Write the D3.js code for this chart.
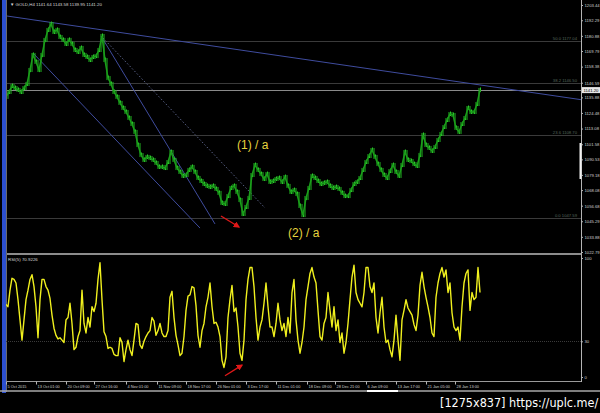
<!DOCTYPE html>
<html>
<head>
<meta charset="utf-8">
<script src="https://cdn.jsdelivr.net/npm/d3@7"></script>
<style>
    html, body { margin: 0; padding: 0; background: #000; }
    svg { display: block; }
</style>
</head>
<body>
<svg id="chart" width="600" height="413"></svg>
<script>
'use strict';

// GOLD,H4 closes, one every 3 bars (bar 1, 4, 7 ...)
const closes = [
    1136.2, 1139.8, 1144.2, 1142.7, 1141.3, 1139.8, 1142.7, 1145.7, 1155.9, 1166.9,
    1161.8, 1155.9, 1166.9, 1177.9, 1185.2, 1189.5, 1183.7, 1185.2, 1180.0, 1177.9,
    1174.9, 1177.9, 1174.9, 1170.5, 1169.1, 1172.0, 1166.9, 1165.4, 1163.2, 1165.4,
    1166.1, 1170.5, 1180.8, 1163.2, 1150.0, 1145.7, 1139.8, 1136.2, 1131.8, 1128.1,
    1125.2, 1120.8, 1116.4, 1110.6, 1101.0, 1093.7, 1090.1, 1092.3, 1091.5, 1090.1,
    1087.9, 1085.0, 1085.0, 1084.2, 1088.6, 1095.9, 1090.1, 1084.2, 1081.3, 1078.4,
    1079.1, 1082.8, 1085.0, 1081.3, 1076.9, 1074.7, 1072.5, 1071.1, 1070.3, 1071.1,
    1068.9, 1066.0, 1058.6, 1057.9, 1063.7, 1069.6, 1071.1, 1066.7, 1060.8, 1050.6,
    1055.7, 1062.3, 1079.1, 1086.4, 1082.8, 1079.8, 1076.2, 1079.8, 1074.0, 1074.7,
    1076.2, 1076.9, 1074.0, 1077.6, 1071.1, 1066.7, 1068.1, 1065.2, 1056.4, 1049.8,
    1062.3, 1069.6, 1078.4, 1076.9, 1074.7, 1072.5, 1073.3, 1074.0, 1071.1, 1069.6,
    1070.3, 1068.9, 1066.0, 1063.7, 1063.7, 1068.1, 1072.5, 1074.0, 1076.9, 1082.8,
    1088.6, 1093.0, 1097.4, 1092.3, 1087.1, 1082.8, 1079.1, 1076.9, 1082.0, 1086.4,
    1081.3, 1078.4, 1086.4, 1095.9, 1090.1, 1089.3, 1087.1, 1085.7, 1093.7, 1108.4,
    1101.0, 1098.9, 1096.7, 1099.6, 1104.7, 1109.1, 1114.2, 1119.3, 1123.7, 1123.0,
    1113.5, 1110.6, 1116.4, 1120.8, 1128.1, 1125.2, 1125.2, 1131.0, 1141.3
];
const closeStep = 3;

// RSI(5), one value every 2 bars
const rsiValues = [
    61, 59, 73, 83, 82, 79, 65, 48, 31, 48,
    65, 73, 82, 86, 76, 59, 33, 65, 82, 82,
    76, 73, 66, 52, 41, 35, 32, 33, 31, 29,
    48, 50, 62, 45, 23, 25, 34, 39, 73, 45,
    37, 50, 42, 59, 55, 62, 82, 96, 65, 38,
    34, 24, 25, 24, 19, 18, 18, 33, 29, 13,
    23, 31, 23, 18, 31, 45, 44, 27, 24, 30,
    34, 37, 39, 50, 47, 35, 39, 45, 37, 34,
    34, 39, 67, 72, 50, 35, 27, 18, 20, 34,
    56, 68, 69, 76, 75, 60, 35, 25, 39, 45,
    59, 67, 79, 59, 45, 46, 42, 34, 14, 8,
    17, 50, 65, 77, 55, 58, 42, 20, 14, 31,
    65, 82, 92, 92, 76, 50, 31, 42, 48, 62,
    79, 59, 42, 42, 34, 45, 62, 48, 39, 45,
    34, 50, 37, 71, 82, 48, 31, 20, 29, 42,
    65, 76, 87, 92, 84, 79, 56, 34, 31, 45,
    50, 71, 56, 42, 59, 39, 48, 29, 37, 20,
    29, 45, 65, 84, 94, 71, 65, 62, 59, 71,
    92, 92, 76, 71, 79, 50, 37, 54, 67, 42,
    29, 31, 23, 17, 31, 52, 31, 14, 48, 56,
    65, 58, 55, 52, 44, 39, 52, 77, 88, 76,
    67, 59, 50, 37, 34, 67, 79, 87, 92, 84,
    90, 71, 79, 54, 42, 39, 42, 31, 59, 79,
    87, 90, 56, 71, 65, 67, 92, 71
];
const rsiStep = 2;

const priceTicks = [1203.44, 1192.29, 1180.88, 1169.79, 1158.38, 1146.59, 1135.88, 1124.48,
    1113.08, 1101.58, 1090.53, 1079.18, 1068.08, 1056.68, 1045.29, 1033.88, 1022.79];
const rsiTicks = [100, 30, 0];
const timeLabels = ['5 Oct 2015', '13 Oct 01:00', '20 Oct 09:00', '27 Oct 16:00', '4 Nov 01:00',
    '11 Nov 09:00', '18 Nov 17:00', '26 Nov 01:00', '3 Dec 17:00', '11 Dec 01:00',
    '18 Dec 09:00', '28 Dec 21:00', '6 Jan 09:00', '13 Jan 17:00', '21 Jan 05:00', '28 Jan 13:00'];
const timeBars = [1, 31, 61, 89, 121, 152, 181, 211, 241, 271, 302, 330, 361, 391, 421, 450];

const fibLevels = ['50.0', '38.2', '23.6', '0.0'];
const fibPrices = [1177.04, 1146.50, 1108.70, 1047.59];
const lastPrice = 1141.20;

// trend lines: [bar, price] -> [bar, price]
const trendStarts = [[0, 1195.6], [28, 1168.3], [96, 1180.8], [98, 1179.3]];
const trendEnds = [[576, 1134.2], [195, 1040.3], [210, 1043.3], [260, 1055.0]];
const trendDashed = [false, false, false, true];

const waveLabels = ['(1) / a', '(2) / a'];
const wavePoints = [[232, 1098.1], [283, 1033.8]];

const svg = d3.select('#chart');
const font = 'Liberation Sans, Arial, sans-serif';

const x = d3.scaleLinear().domain([0, 576]).range([5, 581]);
const y = d3.scaleLinear().domain([1022.79, 1203.44]).range([252, 5]);
const yRsi = d3.scaleLinear().domain([0, 100]).range([377, 258]);

svg.append('rect').attr('width', 600).attr('height', 413).attr('fill', '#000');

// arrow head
svg.append('defs')
    .append('marker')
    .attr('id', 'arr')
    .attr('viewBox', '0 -5 10 10')
    .attr('refX', 8)
    .attr('refY', 0)
    .attr('markerWidth', 5)
    .attr('markerHeight', 5)
    .attr('orient', 'auto')
    .append('path')
    .attr('d', 'M0,-5L10,0L0,5')
    .attr('fill', '#e01818');

svg.select('defs').append('clipPath').attr('id', 'mainClip')
    .append('rect').attr('x', 6).attr('y', 0).attr('width', 575).attr('height', 253);

const main = svg.append('g').attr('clip-path', 'url(#mainClip)');

// fibo levels
fibPrices.forEach((p, i) => {
    main.append('line')
        .attr('x1', 6).attr('x2', 581)
        .attr('y1', Math.round(y(p)) + 0.5).attr('y2', Math.round(y(p)) + 0.5)
        .attr('stroke', '#3a3a3a');
    svg.append('text')
        .attr('x', 577).attr('y', y(p) - 1)
        .attr('text-anchor', 'end')
        .attr('font-family', font).attr('font-size', 4.2)
        .attr('fill', '#56685d')
        .text(`${fibLevels[i]}  ${p.toFixed(2)}`);
});

// bid line
main.append('line')
    .attr('x1', 6).attr('x2', 581)
    .attr('y1', Math.round(y(lastPrice)) + 0.5).attr('y2', Math.round(y(lastPrice)) + 0.5)
    .attr('stroke', '#8a8a8a');

// trend lines
trendStarts.forEach((s, i) => {
    const e = trendEnds[i];
    main.append('line')
        .attr('x1', x(s[0])).attr('y1', y(s[1]))
        .attr('x2', x(e[0])).attr('y2', y(e[1]))
        .attr('stroke', trendDashed[i] ? '#5a6288' : '#3f4c9e')
        .attr('stroke-width', 1)
        .attr('stroke-dasharray', trendDashed[i] ? '1.5,2' : null);
});

// price bars
const bars = closes.map((c, i) => ({ bar: 1 + i * closeStep, c, prev: i ? closes[i - 1] : c }));
main.selectAll('.wick')
    .data(bars)
    .enter()
    .append('line')
    .attr('class', 'wick')
    .attr('x1', d => x(d.bar) - 1).attr('x2', d => x(d.bar) - 1)
    .attr('y1', d => y(Math.max(d.c, d.prev)) - 2)
    .attr('y2', d => y(Math.min(d.c, d.prev)) + 2)
    .attr('stroke', '#22b822')
    .attr('stroke-width', 1);

main.selectAll('.wick2')
    .data(bars)
    .enter()
    .append('line')
    .attr('class', 'wick2')
    .attr('x1', d => x(d.bar) + 0.5).attr('x2', d => x(d.bar) + 0.5)
    .attr('y1', d => y(d.c) - 2.5)
    .attr('y2', d => y(d.c) + 2)
    .attr('stroke', '#2ccc2c')
    .attr('stroke-width', 1);

main.append('path')
    .datum(bars)
    .attr('d', d3.line().x(d => x(d.bar)).y(d => y(d.c)))
    .attr('fill', 'none')
    .attr('stroke', '#1a9e1a')
    .attr('stroke-width', 1.5);

// wave labels
waveLabels.forEach((t, i) => {
    svg.append('text')
        .attr('x', x(wavePoints[i][0])).attr('y', y(wavePoints[i][1]))
        .attr('font-family', font).attr('font-size', 12)
        .attr('fill', '#e6d43e')
        .text(t);
});

// red arrow on price
svg.append('line')
    .attr('x1', x(216)).attr('y1', y(1049.1))
    .attr('x2', x(234)).attr('y2', y(1041.1))
    .attr('stroke', '#e01818').attr('stroke-width', 1.3)
    .attr('marker-end', 'url(#arr)');

// panel frames
svg.append('rect').attr('x', 6).attr('y', 253).attr('width', 575).attr('height', 2).attr('fill', '#8c8c8c');
svg.append('line').attr('x1', 6).attr('x2', 581).attr('y1', 381.5).attr('y2', 381.5).attr('stroke', '#9a9a9a');
svg.append('line').attr('x1', 581.5).attr('x2', 581.5).attr('y1', 0).attr('y2', 382).attr('stroke', '#b4b4b4');
svg.append('line').attr('x1', 6.5).attr('x2', 6.5).attr('y1', 0).attr('y2', 392).attr('stroke', '#6a6a6a');

// RSI pane
svg.append('line')
    .attr('x1', 6).attr('x2', 581)
    .attr('y1', Math.round(yRsi(30)) + 0.5).attr('y2', Math.round(yRsi(30)) + 0.5)
    .attr('stroke', '#3a3a3a').attr('stroke-dasharray', '1,1');

svg.append('path')
    .datum(rsiValues)
    .attr('d', d3.line().x((d, i) => x(1 + i * rsiStep)).y(d => yRsi(d)))
    .attr('fill', 'none')
    .attr('stroke', '#f0f01e')
    .attr('stroke-width', 1.4)
    .attr('stroke-linejoin', 'round');

svg.append('line')
    .attr('x1', x(220)).attr('y1', yRsi(1))
    .attr('x2', x(237)).attr('y2', yRsi(10))
    .attr('stroke', '#e01818').attr('stroke-width', 1.3)
    .attr('marker-end', 'url(#arr)');

// axes
const styleAxis = (g) => {
    g.select('.domain').remove();
    g.selectAll('line').attr('stroke', '#b4b4b4');
    g.selectAll('text').attr('fill', '#cfcfcf').attr('font-family', font).attr('font-size', 4.2);
};

svg.append('g')
    .attr('transform', 'translate(581,0)')
    .call(d3.axisRight(y).tickValues(priceTicks).tickSize(2).tickPadding(1.5).tickFormat(d3.format('.2f')))
    .call(styleAxis);

svg.append('g')
    .attr('transform', 'translate(581,0)')
    .call(d3.axisRight(yRsi).tickValues(rsiTicks).tickSize(2).tickPadding(1.5))
    .call(styleAxis);

svg.append('g')
    .attr('transform', 'translate(0,381.5)')
    .call(d3.axisBottom(x).tickValues(timeBars).tickSize(3).tickPadding(0.5)
        .tickFormat((d, i) => timeLabels[i]))
    .call(styleAxis)
    .call(g => g.selectAll('text').attr('text-anchor', 'start').attr('dx', 1).attr('font-size', 3.9));

// current price box
svg.append('rect').attr('x', 582).attr('y', y(lastPrice) - 3).attr('width', 18).attr('height', 6).attr('fill', '#e8e8e8');
svg.append('text')
    .attr('x', 583.5).attr('y', y(lastPrice) + 1.6)
    .attr('font-family', font).attr('font-size', 4.2).attr('fill', '#000')
    .text(lastPrice.toFixed(2));
svg.append('rect').attr('x', 579.5).attr('y', 143).attr('width', 2).attr('height', 36).attr('fill', '#f0f0f0');

// headers
svg.append('text')
    .attr('x', 10).attr('y', 6)
    .attr('font-family', font).attr('font-size', 4.4).attr('fill', '#d8d8d8')
    .text('\u25BC GOLD,H4  1141.64 1143.58 1139.95 1141.20');
svg.append('text')
    .attr('x', 8).attr('y', 260.5)
    .attr('font-family', font).attr('font-size', 4.4).attr('fill', '#d8d8d8')
    .text('RSI(5) 70.9226');

// window edge
svg.append('rect').attr('x', 2).attr('y', 0).attr('width', 4).attr('height', 393).attr('fill', '#2c4fcf');
svg.append('line').attr('x1', 0).attr('x2', 600).attr('y1', 391).attr('y2', 391).attr('stroke', '#a8a8a8').attr('stroke-width', 1.5);
svg.append('rect').attr('x', 367).attr('y', 390).attr('width', 31).attr('height', 2).attr('fill', '#fff');

svg.append('text')
    .attr('x', 440).attr('y', 407)
    .attr('font-family', 'Liberation Sans Narrow, DejaVu Sans Condensed, sans-serif')
    .attr('font-size', 12.5).attr('fill', '#fff')
    .text('[1275x837] https://uplc.me/');
</script>
</body>
</html>
